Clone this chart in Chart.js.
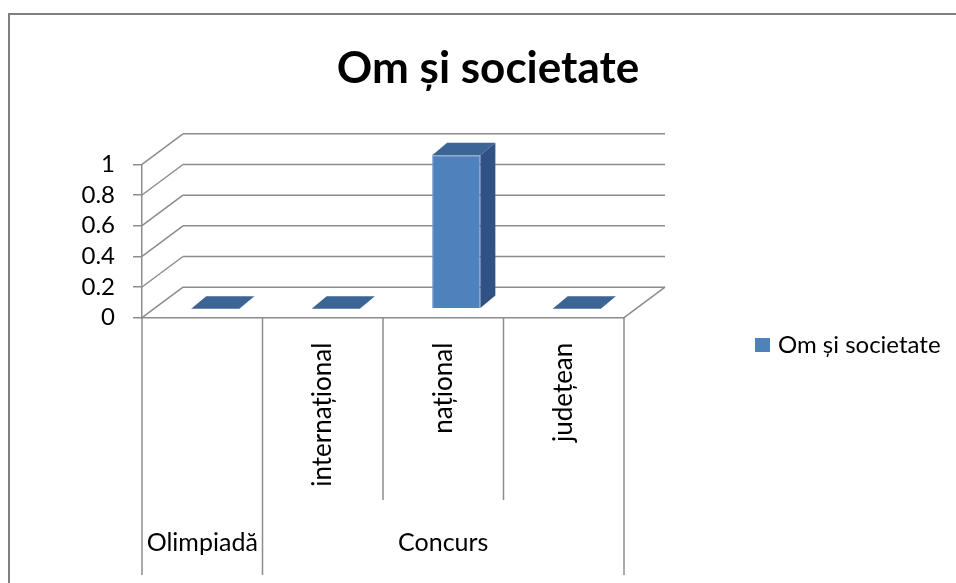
<!DOCTYPE html>
<html><head><meta charset="utf-8">
<script src="https://cdn.jsdelivr.net/npm/chart.js@4"></script>
<style>html,body{margin:0;padding:0;background:#fff}canvas{display:block}</style>
</head><body>
<canvas id="c" width="956" height="583"></canvas>
<script>
// ---- data ----
const chartTitle = 'Om și societate';
const seriesName = 'Om și societate';
const categories = ['', 'internațional', 'național', 'județean'];
const categoryGroups = ['Olimpiadă', 'Concurs', 'Concurs', 'Concurs'];
const values = [0, 0, 1, 0];
const yMin = 0, yMax = 1, yStep = 0.2;

// ---- style ----
const FONT = 'Lato, "Open Sans", sans-serif';
const GRID = '#8c8c8c';
const FRONT = '#4f81bd', TOPC = '#3c6494', SIDEC = '#2f5183';
const WALL = {dx: 41, dy: -30.5};
const BAR_SHIFT = {dx: 13, dy: -9};
const BAR_DEPTH = {dx: 15, dy: -12.5};

function line(ctx, x1, y1, x2, y2) {
  ctx.beginPath(); ctx.moveTo(x1, y1); ctx.lineTo(x2, y2); ctx.stroke();
}
function poly(ctx, pts, color) {
  ctx.beginPath(); ctx.moveTo(pts[0][0], pts[0][1]);
  for (let i = 1; i < pts.length; i++) ctx.lineTo(pts[i][0], pts[i][1]);
  ctx.closePath(); ctx.fillStyle = color; ctx.fill();
}

const threeD = {
  id: 'threeD',
  beforeDraw(chart) {
    const ctx = chart.ctx;
    ctx.save();
    ctx.strokeStyle = '#808080'; ctx.lineWidth = 2;
    ctx.beginPath(); ctx.moveTo(9, chart.height + 5); ctx.lineTo(9, 14); ctx.lineTo(chart.width + 5, 14); ctx.stroke();
    ctx.restore();
  },
  beforeDatasetsDraw(chart) {
    const ctx = chart.ctx, ys = chart.scales.y;
    const {left, right} = chart.chartArea;
    ctx.save();
    ctx.strokeStyle = GRID; ctx.lineWidth = 1.5;
    ys.ticks.forEach(t => {
      const py = ys.getPixelForValue(t.value);
      line(ctx, left, py, left + WALL.dx, py + WALL.dy);
      line(ctx, left + WALL.dx, py + WALL.dy, right + WALL.dx, py + WALL.dy);
    });
    const y0 = ys.getPixelForValue(yMin);
    line(ctx, right, y0, right + WALL.dx, y0 + WALL.dy);
    // category dividers below the floor
    const n = categories.length, w = (right - left) / n;
    for (let i = 0; i <= n; i++) {
      const px = left + i * w;
      const isGroupEdge = i === 0 || i === n || categoryGroups[i] !== categoryGroups[i - 1];
      line(ctx, px, y0, px, isGroupEdge ? 575 : 500);
    }
    // group labels
    ctx.fillStyle = '#000'; ctx.font = '25px ' + FONT;
    ctx.textAlign = 'center'; ctx.textBaseline = 'middle';
    let start = 0;
    for (let i = 1; i <= n; i++) {
      if (i === n || categoryGroups[i] !== categoryGroups[start]) {
        ctx.fillText(categoryGroups[start], left + (start + i) / 2 * w, 543);
        start = i;
      }
    }
    ctx.restore();
    ctx.save();
    ctx.translate(BAR_SHIFT.dx, BAR_SHIFT.dy);
  },
  afterDatasetsDraw(chart) {
    const ctx = chart.ctx;
    ctx.restore();
    const meta = chart.getDatasetMeta(0);
    meta.data.forEach(bar => {
      const {x, y, base, width} = bar.getProps(['x', 'y', 'base', 'width'], true);
      const L = x - width / 2 + BAR_SHIFT.dx, R = x + width / 2 + BAR_SHIFT.dx;
      const T = Math.min(y, base) + BAR_SHIFT.dy, B = Math.max(y, base) + BAR_SHIFT.dy;
      const dx = BAR_DEPTH.dx, dy = BAR_DEPTH.dy;
      poly(ctx, [[L, T], [R, T], [R + dx, T + dy], [L + dx, T + dy]], TOPC);
      if (B - T > 0.5) poly(ctx, [[R, T], [R + dx, T + dy], [R + dx, B + dy], [R, B]], SIDEC);
    });
  },
  afterDraw(chart) {
    const ctx = chart.ctx;
    ctx.save();
    ctx.fillStyle = FRONT; ctx.fillRect(755, 338, 15, 14);
    ctx.fillStyle = '#000'; ctx.font = '24px ' + FONT;
    ctx.textAlign = 'left'; ctx.textBaseline = 'middle';
    ctx.fillText(seriesName, 778, 345);
    ctx.restore();
  }
};

new Chart(document.getElementById('c'), {
  type: 'bar',
  data: {
    labels: categories,
    datasets: [{
      label: seriesName, data: values,
      backgroundColor: FRONT, borderColor: '#7399cc',
      borderWidth: c => (c.raw > 0 ? 1 : 0),
      barPercentage: 0.4, categoryPercentage: 1, clip: false
    }]
  },
  options: {
    responsive: false, animation: false, events: [],
    layout: {padding: {left: 20, right: 0, top: 0, bottom: 0}},
    plugins: {
      legend: {display: false}, tooltip: {enabled: false},
      title: {display: true, text: chartTitle, color: '#000',
        font: {family: FONT, size: 44, weight: 'bold'}, padding: {top: 42.6, bottom: 68.9}}
    },
    scales: {
      x: {
        grid: {display: false, drawTicks: false},
        border: {display: true, color: GRID, width: 1.5},
        ticks: {autoSkip: false, minRotation: 90, maxRotation: 90, padding: 25,
          font: {family: FONT, size: 26}, color: '#000'},
        afterFit(s) { s.height = 265.3; }
      },
      y: {
        min: yMin, max: yMax,
        ticks: {stepSize: yStep, autoSkip: false, padding: 18, font: {family: FONT, size: 24}, color: '#000',
          callback: v => String(Number(v.toFixed(2)))},
        grid: {drawOnChartArea: false, drawTicks: true, tickLength: 9, color: GRID, lineWidth: 1.5},
        border: {color: GRID, width: 1.5},
        afterFit(s) { s.width = 122; }
      },
      y2: {
        position: 'right', display: true,
        grid: {display: false, drawTicks: false}, border: {display: false},
        ticks: {display: false},
        afterFit(s) { s.width = 332; }
      }
    }
  },
  plugins: [threeD]
});
</script>
</body></html>
